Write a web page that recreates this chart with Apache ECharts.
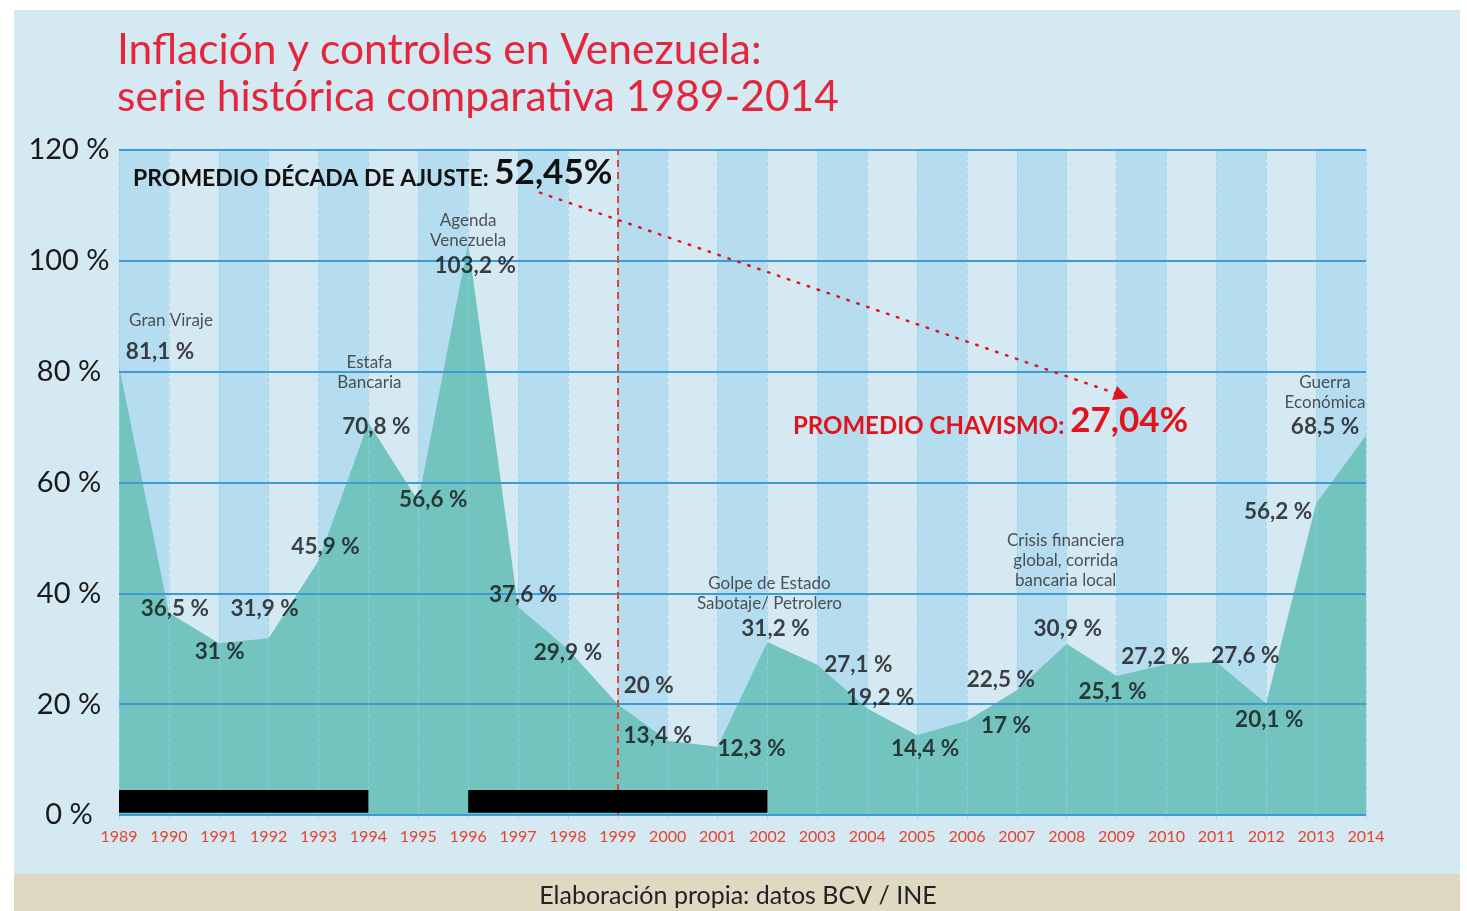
<!DOCTYPE html>
<html>
<head>
<meta charset="utf-8">
<script src="https://cdn.jsdelivr.net/npm/echarts@6/dist/echarts.min.js"></script>
<style>
  html, body { margin: 0; padding: 0; background: #ffffff; }
  #bg { position: absolute; left: 14px; top: 10px; width: 1446px; height: 901px; background: #d4e9f2; }
  #chart { position: absolute; left: 0; top: 0; width: 1467px; height: 911px; }
</style>
</head>
<body>
<div id="bg"></div>
<div id="chart"></div>
<script>
// ---- Data ----
const years = [1989, 1990, 1991, 1992, 1993, 1994, 1995, 1996, 1997, 1998, 1999, 2000, 2001,
               2002, 2003, 2004, 2005, 2006, 2007, 2008, 2009, 2010, 2011, 2012, 2013, 2014];
const inflation = [81.1, 36.5, 31, 31.9, 45.9, 70.8, 56.6, 103.2, 37.6, 29.9, 20, 13.4, 12.3,
                   31.2, 27.1, 19.2, 14.4, 17, 22.5, 30.9, 25.1, 27.2, 27.6, 20.1, 56.2, 68.5];
const eventYears = [1989, 1994, 1996, 2002, 2008, 2014];
const eventNotes = ['Gran Viraje', 'Estafa\nBancaria', 'Agenda\nVenezuela',
                    'Golpe de Estado\nSabotaje/ Petrolero',
                    'Crisis financiera\nglobal, corrida\nbancaria local', 'Guerra\nEconómica'];
const controlPeriods = [[1989, 1994], [1996, 2002]];
const regimeChangeYear = 1999;
const yTicks = [0, 20, 40, 60, 80, 100, 120];
const avgAdjustmentLabel = 'PROMEDIO DÉCADA DE AJUSTE: ';
const avgAdjustment = '52,45%';
const avgChavismoLabel = 'PROMEDIO CHAVISMO: ';
const avgChavismo = '27,04%';
const titleText = 'Inflación y controles en Venezuela:\nserie histórica comparativa 1989-2014';
const sourceText = 'Elaboración propia: datos BCV / INE';

// ---- Layout (label offsets in px, relative to each point) ----
const valueLabelOffsets = [[41,-14],[6,-4],[1,9],[-4,-29],[7,-14],[8,4],[15,-2],[7,23],[5,-12],[0,3],
  [31,-18],[-10,-5],[34,2],[8,-13],[41,0],[13,-11],[8,14],[39,5],[-16,-11],[1,-15],[-4,16],
  [-11,-8],[29,-6],[3,16],[-38,8],[-41,-9]];
const noteOffsets = [[52,-45],[1,-50],[0,-13],[2,-49],[-1,-83],[-41,-43]];

const FONT = 'Lato, "Open Sans", sans-serif';
const fmt = v => String(v).replace('.', ',') + ' %';

const areaData = years.map((y, i) => [y, inflation[i]]);
const valueLabelData = years.map((y, i) => ({
  value: [y, inflation[i]],
  label: { offset: valueLabelOffsets[i] }
}));
const noteData = eventYears.map((y, i) => ({
  value: [y, inflation[years.indexOf(y)]],
  note: eventNotes[i],
  label: { offset: noteOffsets[i] }
}));

const chart = echarts.init(document.getElementById('chart'), null, { renderer: 'canvas' });
chart.setOption({
  backgroundColor: 'transparent',
  animation: false,
  title: {
    text: titleText,
    left: 112, top: 22,
    textStyle: { color: '#e5253b', fontFamily: FONT, fontWeight: 'normal', fontSize: 42.5, lineHeight: 47 }
  },
  grid: { left: 119, right: 101, top: 150, bottom: 96, containLabel: false },
  xAxis: [{
    type: 'value', min: years[0], max: years[years.length - 1], interval: 1,
    axisLine: { show: false },
    axisTick: { show: true, length: 6, lineStyle: { color: '#a9d3ec', type: 'dashed' } },
    axisLabel: { color: '#e8432e', fontFamily: FONT, fontSize: 16, margin: 14, formatter: v => String(v) },
    splitLine: { show: false },
    splitArea: { show: true, areaStyle: { color: ['#b6ddef', '#d4e9f2'] } }
  }, {
    type: 'value', min: years[0], max: years[years.length - 1], interval: 1, position: 'bottom',
    z: 3,
    axisLine: { show: false }, axisTick: { show: false }, axisLabel: { show: false },
    splitLine: { show: true, lineStyle: { color: 'rgba(150,205,236,0.7)', type: 'dashed', width: 1 } }
  }],
  yAxis: {
    type: 'value', min: 0, max: 120, interval: 20, z: 4,
    axisLine: { show: false }, axisTick: { show: false },
    axisLabel: { color: '#1a1a1a', fontFamily: FONT, fontSize: 29, align: 'center', margin: 50,
                 padding: [0, 0, 12, 0],
                 formatter: v => yTicks.includes(v) ? v + ' %' : '' },
    splitLine: { show: true, lineStyle: { color: '#3d9bd8', width: 2 } }
  },
  series: [{
    type: 'line',
    data: areaData,
    symbol: 'none',
    lineStyle: { width: 0 },
    areaStyle: { color: '#73c3bf', opacity: 1 },
    z: 2
  }, {
    type: 'custom',
    z: 5,
    silent: true,
    data: controlPeriods,
    renderItem: (params, api) => {
      const p0 = api.coord([api.value(0), 4.5]);
      const p1 = api.coord([api.value(1), 0.4]);
      return { type: 'rect', shape: { x: p0[0], y: p0[1], width: p1[0] - p0[0], height: p1[1] - p0[1] },
               style: { fill: '#000000' } };
    },
    encode: { x: [0, 1] }
  }, {
    type: 'scatter',
    data: valueLabelData,
    symbolSize: 0,
    z: 6,
    silent: true,
    label: {
      show: true, position: 'inside', color: '#141414', fontFamily: FONT, fontWeight: 'bold', fontSize: 22.5,
      formatter: p => fmt(p.value[1])
    }
  }, {
    type: 'scatter',
    data: noteData,
    symbolSize: 0,
    z: 6,
    silent: true,
    label: {
      show: true, position: 'inside', color: '#2a2a2a', fontFamily: FONT, fontSize: 17, lineHeight: 20,
      align: 'center',
      formatter: p => p.data.note
    }
  }, {
    type: 'line',
    data: [],
    z: 7,
    markLine: {
      silent: true,
      symbol: ['none', 'none'],
      label: { show: false },
      data: [
        { xAxis: regimeChangeYear, lineStyle: { color: '#e8412c', type: [7, 5], width: 2 } }
      ]
    }
  }, {
    type: 'line',
    data: [],
    z: 7,
    markLine: {
      silent: true,
      symbol: ['none', 'triangle'],
      symbolSize: [15, 15],
      label: { show: false },
      lineStyle: { color: '#e3131e', type: [1.5, 9], width: 2.5, cap: 'round' },
      data: [[{ coord: [1997.44, 112.3] }, { coord: [2009.1, 75.7] }]]
    }
  }],
  graphic: [
    {
      type: 'text', x: 133, y: 173, z: 10,
      style: {
        text: '{a|' + avgAdjustmentLabel + '}{b|' + avgAdjustment + '}',
        verticalAlign: 'middle',
        rich: {
          a: { fontFamily: FONT, fontWeight: 'bold', fontSize: 23, fill: '#111', lineHeight: 23, verticalAlign: 'bottom' },
          b: { fontFamily: FONT, fontWeight: 'bold', fontSize: 35, fill: '#111', lineHeight: 35, verticalAlign: 'bottom' }
        }
      }
    },
    {
      type: 'text', x: 793, y: 421, z: 10,
      style: {
        text: '{a|' + avgChavismoLabel + '}{b|' + avgChavismo + '}',
        verticalAlign: 'middle',
        rich: {
          a: { fontFamily: FONT, fontWeight: 'bold', fontSize: 24, fill: '#e3131e', lineHeight: 24, verticalAlign: 'bottom' },
          b: { fontFamily: FONT, fontWeight: 'bold', fontSize: 35, fill: '#e3131e', lineHeight: 35, verticalAlign: 'bottom' }
        }
      }
    },
    {
      type: 'rect', z: 1,
      shape: { x: 14, y: 874, width: 1446, height: 37 },
      style: { fill: '#dfd9c2' }
    },
    {
      type: 'text', x: 738, y: 896, z: 2,
      style: { text: sourceText, fontFamily: FONT, fontSize: 25, fill: '#222', align: 'center', verticalAlign: 'middle' }
    }
  ]
});
</script>
</body>
</html>
